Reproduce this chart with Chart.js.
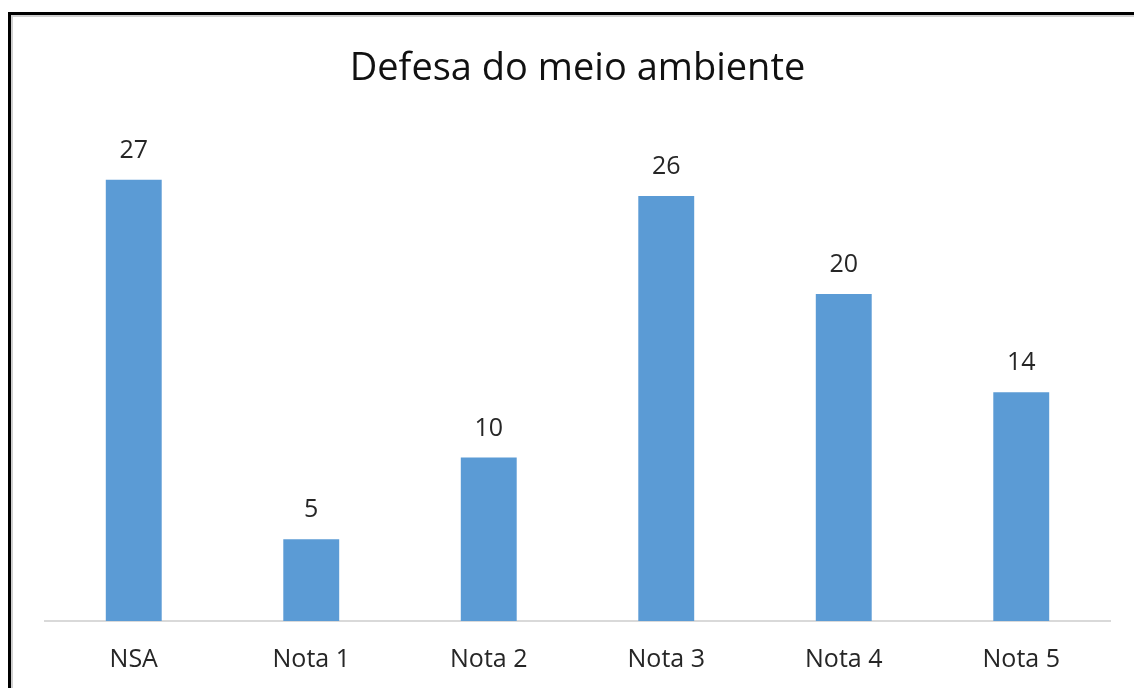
<!DOCTYPE html>
<html>
<head>
<meta charset="utf-8">
<script src="https://cdn.jsdelivr.net/npm/chart.js@4.4.1/dist/chart.umd.min.js"></script>
<style>
  html, body { margin: 0; padding: 0; background: #fff; }
  #wrap { position: absolute; left: 0; top: 0; width: 1134px; height: 688px; overflow: hidden; }
  #frame { position: absolute; left: 8px; top: 12px; width: 1200px; height: 800px;
           border: 3px solid #000; box-shadow: inset 2px 2px 0 #d0d0d0; box-sizing: border-box; }
  canvas { position: absolute; left: 0; top: 0; }
</style>
</head>
<body>
<div id="wrap">
  <div id="frame"></div>
  <canvas id="c" width="1134" height="688"></canvas>
</div>
<script>
const chartTitle = "Defesa do meio ambiente";
const categories = ["NSA", "Nota 1", "Nota 2", "Nota 3", "Nota 4", "Nota 5"];
const values = [27, 5, 10, 26, 20, 14];

const valueLabels = {
  id: 'valueLabels',
  afterDatasetsDraw(chart) {
    const ctx = chart.ctx;
    const meta = chart.getDatasetMeta(0);
    ctx.save();
    ctx.font = '25px "Open Sans", sans-serif';
    ctx.fillStyle = '#262626';
    ctx.textAlign = 'center';
    ctx.textBaseline = 'middle';
    meta.data.forEach((bar, i) => {
      ctx.fillText(String(values[i]), bar.x, bar.y - 29);
    });
    ctx.restore();
  }
};

new Chart(document.getElementById('c'), {
  type: 'bar',
  data: {
    labels: categories,
    datasets: [{
      data: values,
      backgroundColor: '#5B9BD5',
      borderWidth: 0,
      barPercentage: 0.315,
      categoryPercentage: 1.0
    }]
  },
  options: {
    responsive: false,
    animation: false,
    layout: { padding: { left: 45, right: 24, top: 0, bottom: -11 } },
    plugins: {
      legend: { display: false },
      tooltip: { enabled: false },
      title: {
        display: true,
        text: chartTitle,
        color: '#111',
        font: { family: '"Open Sans", sans-serif', size: 38, weight: 'normal', lineHeight: 1.2 },
        padding: { top: 46, bottom: 39 }
      }
    },
    scales: {
      x: {
        grid: { display: false, drawTicks: false },
        border: { display: true, color: '#d9d9d9', width: 2 },
        ticks: {
          color: '#262626',
          font: { family: '"Open Sans", sans-serif', size: 25 },
          padding: 24
        }
      },
      y: {
        display: false,
        min: 0,
        max: 30
      }
    }
  },
  plugins: [valueLabels]
});
</script>
</body>
</html>
